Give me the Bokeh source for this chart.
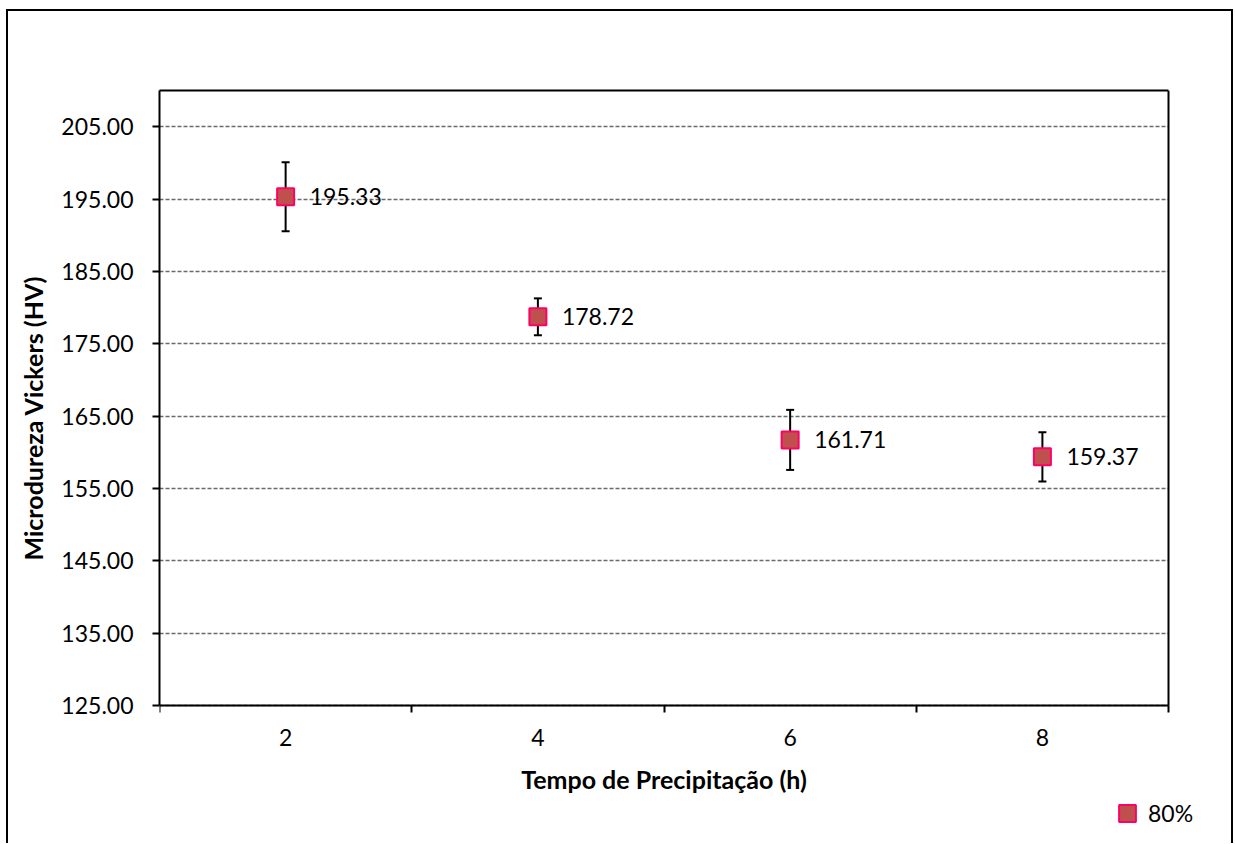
from bokeh.plotting import figure
from bokeh.models import (ColumnDataSource, FixedTicker, Whisker, TeeHead, Legend,
                          LegendItem, NumeralTickFormatter, Title, LinearAxis)
from bokeh.embed import file_html
from bokeh.resources import INLINE
from bokeh.core.properties import value

# ---- data ----
tempo = [2, 4, 6, 8]
dureza = [195.33, 178.72, 161.71, 159.37]
erro = [4.77, 2.55, 4.15, 3.40]
y_ticks = [125, 135, 145, 155, 165, 175, 185, 195, 205]
y_min, y_max = 125, 210
x_min, x_max = 1, 9
serie = "80%"
x_title = "Tempo de Precipitação (h)"
y_title = "Microdureza Vickers (HV)"

FONT = "Lato"
TICK_FS = "23px"
TITLE_FS = "25px"

# ---- layout (pixels) ----
W, H = 1223, 832
TOP, LEFT = 79, 150
AREA_W, AREA_H = 1010, 615      # plot area size
EXTRA_R = 32                     # frame room right of the plot area (for the legend)
RIGHT = W - LEFT - AREA_W - EXTRA_R
BELOW = H - TOP - AREA_H         # frame room under the plot area
y_start = y_min - BELOW * (y_max - y_min) / AREA_H
x_end = x_max + EXTRA_R * (x_max - x_min) / AREA_W

src = ColumnDataSource(dict(
    x=tempo, y=dureza,
    upper=[d + e for d, e in zip(dureza, erro)],
    lower=[d - e for d, e in zip(dureza, erro)],
    label=[f"{d:.2f}" for d in dureza],
))

p = figure(width=W, height=H, x_range=(x_min, x_end), y_range=(y_start, y_max),
           output_backend="svg", toolbar_location=None,
           min_border_left=LEFT, min_border_right=RIGHT, min_border_top=TOP, min_border_bottom=0)
p.margin = (11, 0, 0, 8)
p.styles = {"box-shadow": "-2px 0 0 0 #000, 2px 0 0 0 #000, 0 -2px 0 0 #000, -2px -2px 0 0 #000, 2px -2px 0 0 #000"}
p.outline_line_color = None

xa = p.below[0]
ya = p.left[0]

GRID_COLOR, GRID_DASH, GRID_W = "#6a6a6a", "4 2", 1.3
p.xgrid.visible = False
grid_ok = True
try:
    p.ygrid[0].cross_bounds = (x_min, x_max)
except Exception:
    grid_ok = False
if grid_ok:
    p.ygrid.grid_line_color = GRID_COLOR
    p.ygrid.grid_line_dash = GRID_DASH
    p.ygrid.grid_line_width = GRID_W
else:
    p.ygrid.visible = False
    gax = LinearAxis(ticker=FixedTicker(ticks=y_ticks[1:], minor_ticks=[]),
                     fixed_location=x_min, axis_line_color=None,
                     major_tick_in=AREA_W, major_tick_out=0, minor_tick_in=0, minor_tick_out=0,
                     major_tick_line_color=GRID_COLOR, major_tick_line_dash=GRID_DASH,
                     major_tick_line_width=GRID_W, major_label_text_font_size="0px")
    p.add_layout(gax, "left")

# y axis
ya.ticker = FixedTicker(ticks=y_ticks, minor_ticks=[])
ya.formatter = NumeralTickFormatter(format="0.00")
ya.bounds = (y_min, y_max)
# x axis at y = y_min (category boundaries as minor ticks)
limites = [t - 1 for t in tempo] + [tempo[-1] + 1]
xa.ticker = FixedTicker(ticks=tempo, minor_ticks=limites)
xa.fixed_location = y_min
xa.bounds = (x_min, x_max)
xa.axis_label = x_title
xa.major_tick_out = 0
xa.major_tick_in = 0
xa.minor_tick_out = 7
xa.minor_tick_in = 0
ya.major_tick_out = 7
ya.major_tick_in = 0
ya.minor_tick_out = 0
for ax in (xa, ya):
    ax.axis_line_color = "black"
    ax.axis_line_width = 2
    ax.major_tick_line_color = "black"
    ax.major_tick_line_width = 2
    ax.minor_tick_line_color = "black"
    ax.minor_tick_line_width = 2
    ax.major_label_text_font = FONT
    ax.major_label_text_font_size = TICK_FS
    ax.major_label_text_color = "black"
    ax.axis_label_text_font = FONT
    ax.axis_label_text_font_size = TITLE_FS
    ax.axis_label_text_font_style = "bold"
    ax.axis_label_text_color = "black"
ya.major_label_standoff = 19
xa.major_label_standoff = 16
xa.axis_label_standoff = 15

# plot-area border (top and right) as plain axis lines
top_ax = LinearAxis(ticker=FixedTicker(ticks=[]), bounds=(x_min, x_max),
                    axis_line_color="black", axis_line_width=2,
                    major_tick_out=0, major_tick_in=0, minor_tick_out=0, minor_tick_in=0,
                    major_label_text_font_size="0px")
right_ax = LinearAxis(ticker=FixedTicker(ticks=[]), bounds=(y_min, y_max), fixed_location=x_max,
                      axis_line_color="black", axis_line_width=2,
                      major_tick_out=0, major_tick_in=0, minor_tick_out=0, minor_tick_in=0,
                      major_label_text_font_size="0px")
p.add_layout(top_ax, "above")
p.add_layout(right_ax, "right")

# y-axis title
p.add_layout(Title(text=y_title, align="left", offset=283, standoff=18, vertical_align="top",
                   text_font=FONT, text_font_size=TITLE_FS, text_font_style="bold",
                   text_color="black"), "left")

# error bars
wk = Whisker(base="x", upper="upper", lower="lower", source=src, dimension="height",
             line_color="black", line_width=2,
             upper_head=TeeHead(size=8, line_color="black", line_width=2),
             lower_head=TeeHead(size=8, line_color="black", line_width=2),
             level="underlay")
p.add_layout(wk)

sc = p.scatter("x", "y", source=src, marker="square", size=17,
               fill_color="#C0504D", line_color="#FF0066", line_width=2)

p.text("x", "y", text="label", source=src, x_offset=24,
       text_font=value(FONT), text_font_size=TICK_FS, text_color="black",
       text_baseline="middle", text_align="left")

legend = Legend(items=[LegendItem(label=serie, renderers=[sc])],
                location=(947, 9), glyph_width=42, glyph_height=42,
                label_standoff=-13, padding=0, margin=0,
                border_line_alpha=0, background_fill_alpha=0,
                label_text_font=FONT, label_text_font_size=TICK_FS,
                label_text_color="black")
p.add_layout(legend)

open("out.html", "w").write(file_html(p, INLINE))
